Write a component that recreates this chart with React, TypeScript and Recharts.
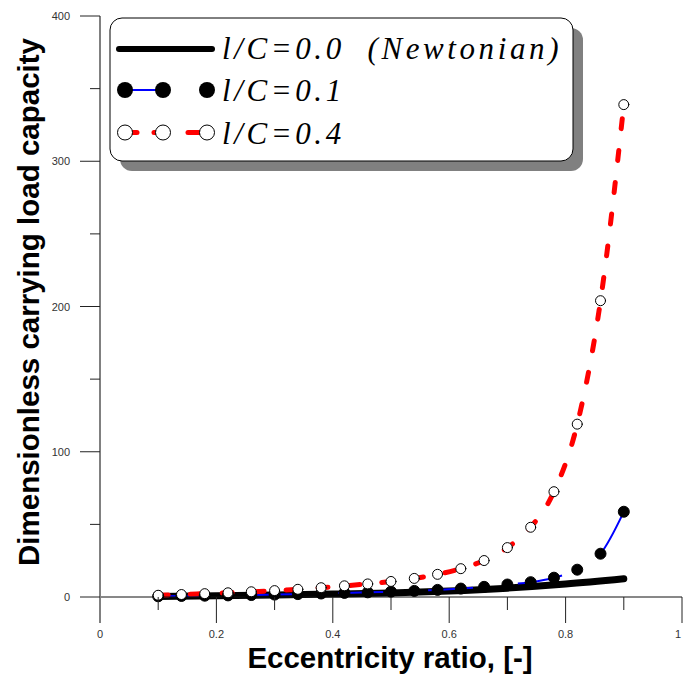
import React from 'react';
import { LineChart, Line, XAxis, YAxis, Legend } from 'recharts';

// eccentricity ratio for the marked series
const eps = [0.1, 0.14, 0.18, 0.22, 0.26, 0.3, 0.34, 0.38, 0.42, 0.46, 0.5, 0.54, 0.58, 0.62, 0.66, 0.7, 0.74, 0.78, 0.82, 0.86, 0.9];
// l/C = 0.1
const loadLc01 = [0.5, 0.7, 0.9, 1.1, 1.35, 1.65, 2.0, 2.4, 2.8, 3.2, 3.7, 4.2, 4.9, 5.8, 7.0, 8.6, 10.2, 13.3, 18.8, 29.8, 58.7];
// l/C = 0.4
const loadLc04 = [1.2, 1.7, 2.3, 2.9, 3.6, 4.4, 5.3, 6.4, 7.7, 9.0, 10.7, 12.8, 15.6, 19.5, 25.1, 34.0, 48.0, 72.5, 119, 204, 339];
// Newtonian (l/C = 0)
const newtonEps = [0.1, 0.2, 0.3, 0.4, 0.5, 0.6, 0.7, 0.8, 0.9];
const newtonLoad = [0.4, 0.9, 1.4, 2.0, 2.8, 4.1, 6.1, 8.9, 12.5];

const xTicks = [0, 0.1, 0.2, 0.3, 0.4, 0.5, 0.6, 0.7, 0.8, 0.9, 1];
const yTicks = [0, 50, 100, 150, 200, 250, 300, 350, 400];

const dataNewton = newtonEps.map((e, i) => ({ e, w: newtonLoad[i] }));
const data01 = eps.map((e, i) => ({ e, w: loadLc01[i] }));
const data04 = eps.map((e, i) => ({ e, w: loadLc04[i] }));

const sans = '"Liberation Sans", Arial, sans-serif';
const serif = '"Liberation Serif", "Times New Roman", serif';

const XTick = (props: any) => {
  const { x, y, payload } = props;
  const v = Math.round(payload.value * 10) / 10;
  const major = Math.round(v * 10) % 2 === 0;
  const label = v === 0 ? '0' : v === 1 ? '1' : v.toFixed(1);
  // last label sits on the right edge, keep it inside the picture
  const lx = v === 1 ? x - 4 : x;
  return (
    <g>
      <line x1={x} y1={y} x2={x} y2={y + (major ? 26 : 13)} stroke={v === 0 ? '#808080' : '#222'} strokeWidth={v === 0 ? 2 : 1} />
      {major && (
        <text x={lx} y={y + 41} textAnchor="middle" fontSize={11} fill="#333" fontFamily={sans}>
          {label}
        </text>
      )}
    </g>
  );
};

const YTick = (props: any) => {
  const { x, y, payload } = props;
  const v = payload.value;
  const major = v % 100 === 0;
  return (
    <g>
      <line x1={x - (major ? 20 : 10)} y1={y} x2={x} y2={y} stroke="#222" strokeWidth={1} />
      {major && (
        <text x={x - 30} y={y + 4} textAnchor="end" fontSize={11} fill="#333" fontFamily={sans}>
          {v}
        </text>
      )}
    </g>
  );
};

const legendText = {
  fontFamily: serif,
  fontStyle: 'italic' as const,
  fontSize: 31,
  letterSpacing: 3.6,
  whiteSpace: 'pre' as const,
};

const LegendBox = () => (
  <svg width={490} height={170} style={{ display: 'block' }}>
    <rect x={20} y={18} width={463} height={143} rx={12} fill="#808080" />
    <rect x={10} y={8} width={463} height={143} rx={12} fill="#fff" stroke="#000" strokeWidth={1} />
    <line x1={19} y1={39} x2={112} y2={39} stroke="#000" strokeWidth={6} strokeLinecap="round" />
    <text x={122} y={49} style={legendText}>{'l/C=0.0  (Newtonian)'}</text>

    <line x1={25} y1={80} x2={63} y2={80} stroke="#0000ff" strokeWidth={2} />
    <circle cx={25} cy={80} r={8} fill="#000" />
    <circle cx={63} cy={80} r={8} fill="#000" />
    <circle cx={107} cy={80} r={8} fill="#000" />
    <text x={122} y={91} style={legendText}>{'l/C=0.1'}</text>

    <line x1={25} y1={122.5} x2={37} y2={122.5} stroke="#ff0000" strokeWidth={5} strokeLinecap="round" />
    <line x1={54} y1={122.5} x2={62} y2={122.5} stroke="#ff0000" strokeWidth={5} strokeLinecap="round" />
    <line x1={88} y1={122.5} x2={106} y2={122.5} stroke="#ff0000" strokeWidth={5} strokeLinecap="round" />
    <circle cx={25} cy={122.5} r={7.5} fill="#fff" stroke="#000" strokeWidth={1} />
    <circle cx={63} cy={122.5} r={7.5} fill="#fff" stroke="#000" strokeWidth={1} />
    <circle cx={107} cy={122.5} r={7.5} fill="#fff" stroke="#000" strokeWidth={1} />
    <text x={122} y={133.5} style={legendText}>{'l/C=0.4'}</text>
  </svg>
);

export default function App() {
  return (
    <div style={{ position: 'absolute', left: 0, top: 0, background: '#fff' }}>
      <LineChart width={683} height={674} margin={{ top: 16, right: 1, bottom: 47, left: 20 }}>
        <XAxis
          type="number"
          dataKey="e"
          domain={[0, 1]}
          ticks={xTicks}
          interval={0}
          height={30}
          tickSize={0}
          tickMargin={0}
          tickLine={false}
          tick={<XTick />}
          axisLine={{ stroke: '#111', strokeWidth: 1 }}
          allowDuplicatedCategory={false}
          label={{
            content: () => (
              <text x={390} y={668} textAnchor="middle" fontSize={29.5} fontWeight="bold" fontFamily={sans} fill="#000">
                Eccentricity ratio, [-]
              </text>
            ),
          }}
        />
        <YAxis
          type="number"
          domain={[0, 400]}
          ticks={yTicks}
          interval={0}
          width={80}
          tickSize={0}
          tickMargin={0}
          tickLine={false}
          tick={<YTick />}
          axisLine={{ stroke: '#808080', strokeWidth: 2 }}
          label={{
            content: () => (
              <text
                x={39}
                y={302}
                transform="rotate(-90 39 302)"
                textAnchor="middle"
                fontSize={29.5}
                fontWeight="bold"
                fontFamily={sans}
                fill="#000"
              >
                Dimensionless carrying load capacity
              </text>
            ),
          }}
        />
        <Legend
          layout="vertical"
          align="center"
          verticalAlign="middle"
          wrapperStyle={{ left: 100, top: 10, width: 490, height: 170 }}
          content={() => <LegendBox />}
        />
        <Line
          data={dataNewton}
          dataKey="w"
          type="monotone"
          stroke="#000"
          strokeWidth={7}
          strokeLinecap="round"
          dot={false}
          isAnimationActive={false}
        />
        <Line
          data={data01}
          dataKey="w"
          type="monotone"
          stroke="#0000ff"
          strokeWidth={2}
          strokeDasharray="45 45"
          dot={{ r: 5.5, fill: '#000', stroke: '#000', strokeWidth: 1, strokeDasharray: '0' }}
          isAnimationActive={false}
        />
        <Line
          data={data04}
          dataKey="w"
          type="monotone"
          stroke="#ff0000"
          strokeWidth={5}
          strokeDasharray="10 22"
          strokeLinecap="round"
          dot={{ r: 5, fill: '#fff', stroke: '#000', strokeWidth: 1, strokeDasharray: '0' }}
          isAnimationActive={false}
        />
      </LineChart>
    </div>
  );
}
